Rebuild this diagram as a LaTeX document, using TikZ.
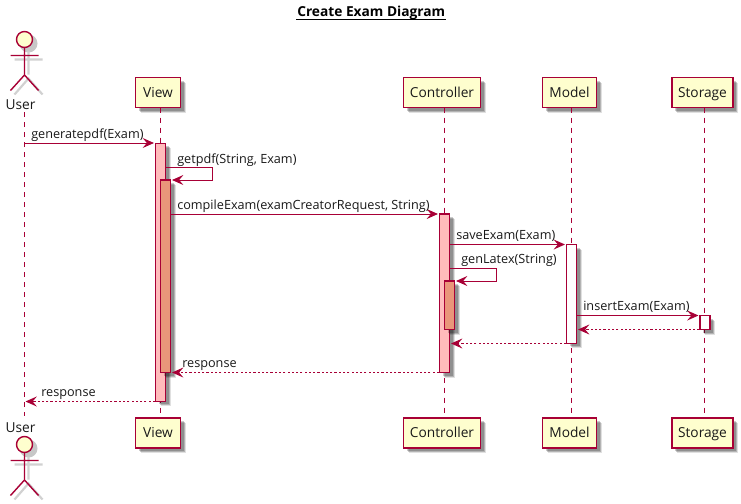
\documentclass[tikz,border=0pt]{standalone}
\usepackage{fontspec}
\setmainfont{Open Sans}
\usetikzlibrary{arrows.meta,shadows,calc}
\definecolor{pline}{HTML}{A80036}
\definecolor{pfill}{HTML}{FEFECE}
\definecolor{actA}{HTML}{FFBBBB}
\definecolor{actB}{HTML}{E9967A}
\tikzset{
  softshadow/.style={
    drop shadow={shadow xshift=5*0.75pt,shadow yshift=-5*0.75pt,fill=black,opacity=.12},
    drop shadow={shadow xshift=4*0.75pt,shadow yshift=-4*0.75pt,fill=black,opacity=.2},
    drop shadow={shadow xshift=3*0.75pt,shadow yshift=-3*0.75pt,fill=black,opacity=.2}},
  partbox/.style={draw=pline,line width=1.05pt,fill=pfill,softshadow,inner sep=0pt,minimum height=22.5pt,text height=8.5pt,text depth=1.2pt,font=\fontsize{10.3}{12}\selectfont,text=black!90},
  actbox/.style={draw=pline,line width=.8pt,softshadow,inner sep=0pt,minimum width=7.5pt},
  lifeline/.style={draw=pline,line width=.65pt,dash pattern=on 3.75pt off 3.75pt},
  msg/.style={draw=pline,line width=.75pt,-{Stealth[length=8.5pt,width=7.5pt,inset=3.2pt]}},
  reply/.style={msg,dash pattern=on 1.6pt off 1.6pt},
  lbl/.style={anchor=base west,inner sep=0pt,font=\fontsize{9.5}{12}\selectfont,text=black!90},
  actorname/.style={inner sep=0pt,anchor=base,font=\fontsize{10.3}{12}\selectfont,text=black!90},
  limb/.style={draw=pline,line width=1.05pt},
  limbshadow/.style={draw=black!18,line width=1.6pt},
  headshadow/.style={fill=black!22,draw=none,circle,minimum size=13.5pt,inner sep=0pt}
}
\newcommand{\stickman}[3]{% name, x, head y
  \coordinate (#1head) at (#2,#3);
  \node[headshadow] at ($(#1head)+(4,4)$) {};
  \draw[limbshadow] ($(#1head)+(4,12)$) -- ($(#1head)+(4,35)$) ($(#1head)+(-10,20)$) -- ($(#1head)+(18,20)$)
     ($(#1head)+(-10,55)$) -- ($(#1head)+(4,39)$) -- ($(#1head)+(18,55)$);
  \draw[limb] ($(#1head)+(0,8)$) -- ($(#1head)+(0,35.5)$)
     ($(#1head)+(-14,16)$) -- ($(#1head)+(14,16)$)
     ($(#1head)+(-14,51)$) -- ($(#1head)+(0,35.5)$) -- ($(#1head)+(14,51)$);
  \node[circle,draw=pline,fill=pfill,line width=1.05pt,minimum size=12pt,inner sep=0pt] (#1circle) at (#1head) {};
}
\begin{document}
\begin{tikzpicture}[x=0.75pt,y=-0.75pt]
\useasboundingbox[fill=white] (0,0) rectangle (741,503);

% title
\node[inner sep=0pt,anchor=base west,font=\bfseries\fontsize{10.3}{12}\selectfont] (title) at (297,16.5) {Create Exam Diagram};
\coordinate (ulL) at (296,19.5);
\coordinate (ulR) at (446,19.5);
\draw[black,line width=.75pt] (ulL) -- (ulR);

% lifeline end points
\coordinate (userTop) at (24.5,112);
\coordinate (userBot) at (24.5,416);

% participants
\node[partbox,minimum width=33.75pt] (viewT) at (158,92.5) {View};
\node[partbox,minimum width=33.75pt] (viewB) at (158,433) {View};
\node[partbox,minimum width=57.75pt] (ctrlT) at (442,92.5) {Controller};
\node[partbox,minimum width=57.75pt] (ctrlB) at (442,433) {Controller};
\node[partbox,minimum width=40.5pt] (modelT) at (569.5,92.5) {Model};
\node[partbox,minimum width=40.5pt] (modelB) at (569.5,433) {Model};
\node[partbox,minimum width=45.75pt] (storT) at (702.5,92.5) {Storage};
\node[partbox,minimum width=45.75pt] (storB) at (702.5,433) {Storage};

% lifelines
\draw[lifeline] (userTop) -- (userBot);
\draw[lifeline] (160.5,107.5) -- (160.5,418);
\draw[lifeline] (444.5,107.5) -- (444.5,418);
\draw[lifeline] (571.5,107.5) -- (571.5,418);
\draw[lifeline] (704.5,107.5) -- (704.5,418);

% actors
\stickman{userT}{24.5}{39.5}
\node[actorname] (userTl) at (20.5,109) {User};
\stickman{userB}{24.5}{444.5}
\node[actorname] (userBl) at (20.5,432) {User};

% activations
\node[actbox,fill=actA,minimum height=193.5pt] (viewA) at (160.5,272.25) {};
\node[actbox,fill=actB,minimum height=144.4pt] (viewI) at (165.5,276.25) {};
\node[actbox,fill=actA,minimum height=118.9pt] (ctrlA) at (444.5,293.25) {};
\node[actbox,fill=actB,minimum height=36.4pt] (ctrlI) at (449.5,305.25) {};
\node[actbox,fill=white,minimum height=74.2pt] (modelA) at (571.5,294) {};
\node[actbox,fill=white,minimum height=10.5pt] (storA) at (705,322.5) {};

% message levels
\coordinate (m1) at (0,143);
\coordinate (m2) at (0,167.5);
\coordinate (m2b) at (0,180);
\coordinate (m3) at (0,214);
\coordinate (m4) at (0,244.5);
\coordinate (m5) at (0,268.5);
\coordinate (m5b) at (0,281);
\coordinate (m6) at (0,315.5);
\coordinate (m7) at (0,329.5);
\coordinate (m8) at (0,343.5);
\coordinate (m9) at (0,372.5);
\coordinate (m10) at (0,401.5);
\coordinate (selfA) at (212.5,0);
\coordinate (selfB) at (496.5,0);

% messages
\draw[msg] (userTop |- m1) -- ($(viewA.west |- m1)+(-1,0)$);
\draw[msg] (viewA.east |- m2) -- (selfA |- m2) -- (selfA |- m2b) -- ($(viewI.east |- m2b)+(1,0)$);
\draw[msg] (viewI.east |- m3) -- ($(ctrlA.west |- m3)+(-1,0)$);
\draw[msg] (ctrlA.east |- m4) -- ($(modelA.west |- m4)+(-1,0)$);
\draw[msg] (ctrlA.east |- m5) -- (selfB |- m5) -- (selfB |- m5b) -- ($(ctrlI.east |- m5b)+(1,0)$);
\draw[msg] (modelA.east |- m6) -- ($(storA.west |- m6)+(-1,0)$);
\draw[reply] (storA.west |- m7) -- ($(modelA.east |- m7)+(1,0)$);
\draw[reply] (modelA.west |- m8) -- ($(ctrlA.east |- m8)+(1,0)$);
\draw[reply] (ctrlA.west |- m9) -- ($(viewI.east |- m9)+(1,0)$);
\draw[reply] (viewA.west |- m10) -- ($(userTop |- m10)+(1,0)$);

% labels
\node[lbl] (t1) at (31,138) {generatepdf(Exam)};
\node[lbl] (t2) at (177,163) {getpdf(String, Exam)};
\node[lbl] (t3) at (177,209) {compileExam(examCreatorRequest, String)};
\node[lbl] (t4) at (456,239) {saveExam(Exam)};
\node[lbl] (t5) at (461,263) {genLatex(String)};
\node[lbl] (t6) at (583,310) {insertExam(Exam)};
\node[lbl] (t7) at (182,367) {response};
\node[lbl] (t8) at (41,396) {response};
\end{tikzpicture}
\end{document}
